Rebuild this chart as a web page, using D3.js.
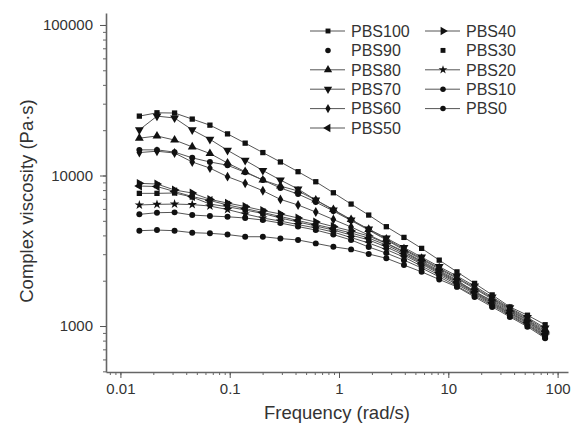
<!DOCTYPE html>
<html>
<head>
<meta charset="utf-8">
<script src="https://cdn.jsdelivr.net/npm/d3@7"></script>
<style>
  body { margin: 0; background: #fff; }
  svg { display: block; font-family: "Liberation Sans", Arial, sans-serif; }
</style>
</head>
<body>
<div id="chart"></div>
<script>
// frequencies (rad/s)
const freq = [0.0149, 0.0216, 0.0313, 0.0454, 0.0659, 0.0955, 0.1385, 0.201, 0.291, 0.422,
  0.613, 0.888, 1.29, 1.87, 2.71, 3.93, 5.70, 8.26, 12.0, 17.4, 25.2, 36.6, 53.0, 76.9];

const seriesNames = ["PBS100", "PBS90", "PBS80", "PBS70", "PBS60", "PBS50",
  "PBS40", "PBS30", "PBS20", "PBS10", "PBS0"];

// complex viscosity (Pa·s)
const PBS100 = [24800, 26100, 26000, 23700, 21600, 18900, 16400, 14200, 12300, 10600, 9090, 7680,
  6460, 5460, 4570, 3880, 3280, 2740, 2290, 1920, 1610, 1340, 1180, 1020];
const PBS70 = [20100, 24800, 24100, 20100, 17400, 14700, 12600, 10800, 9330, 8130, 6870, 5900,
  5060, 4410, 3840, 3320, 2870, 2480, 2150, 1840, 1560, 1320, 1140, 970];
const PBS80 = [17700, 18300, 17200, 15500, 14000, 12100, 10600, 9330, 8510, 7890, 6870, 5940,
  5100, 4380, 3780, 3250, 2810, 2430, 2100, 1800, 1530, 1300, 1120, 950];
const PBS90 = [14800, 14800, 14300, 13100, 12300, 11700, 10500, 9330, 8260, 7530, 6660, 5810,
  5020, 4340, 3730, 3200, 2770, 2390, 2070, 1770, 1510, 1280, 1100, 930];
const PBS60 = [14200, 14500, 14100, 12300, 11200, 9820, 8870, 7920, 6940, 6370, 5720, 5100,
  4550, 4020, 3560, 3130, 2700, 2340, 2020, 1680, 1480, 1260, 1090, 910];
const PBS40 = [8870, 8780, 8010, 7650, 6940, 6560, 6220, 5850, 5550, 5220, 4910, 4580,
  4280, 3960, 3530, 3100, 2660, 2300, 1990, 1710, 1450, 1240, 1070, 900];
const PBS50 = [8510, 8450, 7820, 7250, 6820, 6370, 6030, 5680, 5340, 5020, 4720, 4440,
  4150, 3840, 3450, 3030, 2620, 2270, 1960, 1680, 1430, 1220, 1060, 885];
const PBS30 = [7610, 7610, 7650, 7190, 6460, 6200, 5900, 5590, 5220, 4910, 4620, 4340,
  4020, 3730, 3350, 2960, 2580, 2230, 1930, 1660, 1410, 1210, 1040, 870];
const PBS20 = [6370, 6430, 6460, 6410, 6270, 5940, 5550, 5220, 4980, 4720, 4480, 4210,
  3870, 3560, 3220, 2870, 2500, 2180, 1890, 1630, 1390, 1190, 1020, 860];
const PBS10 = [5520, 5660, 5690, 5460, 5380, 5320, 5220, 5060, 4830, 4580, 4340, 4050,
  3730, 3350, 3050, 2740, 2430, 2120, 1840, 1590, 1370, 1170, 1010, 845];
const PBS0 = [4300, 4340, 4300, 4170, 4130, 4050, 3920, 3920, 3810, 3730, 3540, 3360,
  3230, 3010, 2820, 2540, 2290, 2040, 1820, 1560, 1340, 1150, 990, 830];

const xMajor = [0.01, 0.1, 1, 10, 100];
const yMajor = [1000, 10000, 100000];

const valuesByName = { PBS100, PBS90, PBS80, PBS70, PBS60, PBS50, PBS40, PBS30, PBS20, PBS10, PBS0 };

const symbolFor = {
  PBS100: [d3.symbolSquare, 0], PBS90: [d3.symbolCircle, 0], PBS80: [d3.symbolTriangle, 0],
  PBS70: [d3.symbolTriangle, 180], PBS60: [d3.symbolDiamond, 0], PBS50: [d3.symbolTriangle, -90],
  PBS40: [d3.symbolTriangle, 90], PBS30: [d3.symbolSquare, 0], PBS20: [d3.symbolStar, 0],
  PBS10: [d3.symbolCircle, 0], PBS0: [d3.symbolCircle, 0]
};
const noLegendLine = ["PBS90", "PBS30"];

const width = 572, height = 427;
const svg = d3.select("#chart").append("svg")
  .attr("width", width).attr("height", height);

const x = d3.scaleLog().domain([0.00738, 124.5]).range([106, 568]);
const y = d3.scaleLog().domain([495, 120100]).range([372, 13]);

// minor ticks
svg.append("g")
  .attr("transform", "translate(0,372)")
  .call(d3.axisBottom(x).tickValues(x.ticks()).tickSize(3).tickSizeOuter(0).tickFormat(""))
  .call(g => g.select(".domain").attr("stroke", "#666").attr("stroke-width", 1.6))
  .call(g => g.selectAll(".tick line").attr("stroke", "#666"));
svg.append("g")
  .attr("transform", "translate(106,0)")
  .call(d3.axisLeft(y).tickValues(y.ticks()).tickSize(3).tickSizeOuter(0).tickFormat(""))
  .call(g => g.select(".domain").attr("stroke", "#666").attr("stroke-width", 1.6))
  .call(g => g.selectAll(".tick line").attr("stroke", "#666"));

// major ticks
svg.append("g")
  .attr("transform", "translate(0,372)")
  .call(d3.axisBottom(x).tickValues(xMajor).tickSize(6).tickPadding(5).tickFormat(d => String(d)))
  .call(g => g.select(".domain").remove())
  .call(g => g.selectAll(".tick line").attr("stroke", "#555"))
  .call(g => g.selectAll("text").attr("fill", "#333").style("font-size", "15px")
    .style("font-family", "'Liberation Sans', Arial, sans-serif"));
svg.append("g")
  .attr("transform", "translate(106,0)")
  .call(d3.axisLeft(y).tickValues(yMajor).tickSize(6).tickPadding(7).tickFormat(d => String(d)))
  .call(g => g.select(".domain").remove())
  .call(g => g.selectAll(".tick line").attr("stroke", "#555"))
  .call(g => g.selectAll("text").attr("fill", "#333").style("font-size", "15px")
    .style("font-family", "'Liberation Sans', Arial, sans-serif"));

// axis titles
svg.append("text")
  .attr("x", 337).attr("y", 419)
  .attr("text-anchor", "middle")
  .attr("fill", "#333")
  .style("font-size", "18.5px")
  .text("Frequency (rad/s)");
svg.append("text")
  .attr("transform", "translate(33,201) rotate(-90)")
  .attr("text-anchor", "middle")
  .attr("fill", "#333")
  .style("font-size", "18.5px")
  .text("Complex viscosity (Pa·s)");

// series
const line = d3.line().x((d, i) => x(freq[i])).y(d => y(d));
const drawOrder = ["PBS0", "PBS10", "PBS20", "PBS30", "PBS50", "PBS40", "PBS60", "PBS90", "PBS80", "PBS70", "PBS100"];

drawOrder.forEach(name => {
  const vals = valuesByName[name];
  const [sym, rot] = symbolFor[name];
  const g = svg.append("g");
  g.append("path")
    .attr("d", line(vals))
    .attr("fill", "none")
    .attr("stroke", "#555")
    .attr("stroke-width", 1);
  g.selectAll("path.pt")
    .data(vals)
    .enter()
    .append("path")
    .attr("class", "pt")
    .attr("d", d3.symbol().type(sym).size(sym === d3.symbolTriangle ? 34 : 28))
    .attr("transform", (d, i) => `translate(${x(freq[i])},${y(d)}) rotate(${rot})`)
    .attr("fill", "#111");
});

// legend
const col1 = seriesNames.slice(0, 6), col2 = seriesNames.slice(6);
const legend = svg.append("g");
[[col1, 310, 465 - 115], [col2, 425, 465]].forEach(([names, lx, tx]) => {
  names.forEach((name, i) => {
    const ly = 31 + i * 19.4;
    const [sym, rot] = symbolFor[name];
    if (!noLegendLine.includes(name)) {
      legend.append("line")
        .attr("x1", lx).attr("x2", lx + 35)
        .attr("y1", ly).attr("y2", ly)
        .attr("stroke", "#555").attr("stroke-width", 1);
    }
    legend.append("path")
      .attr("d", d3.symbol().type(sym).size(sym === d3.symbolTriangle ? 30 : 24))
      .attr("transform", `translate(${lx + 18},${ly}) rotate(${rot})`)
      .attr("fill", "#111");
    legend.append("text")
      .attr("x", lx + 41).attr("y", ly)
      .attr("dy", "0.36em")
      .attr("fill", "#333")
      .style("font-size", "16px")
      .text(name);
  });
});
</script>
</body>
</html>
